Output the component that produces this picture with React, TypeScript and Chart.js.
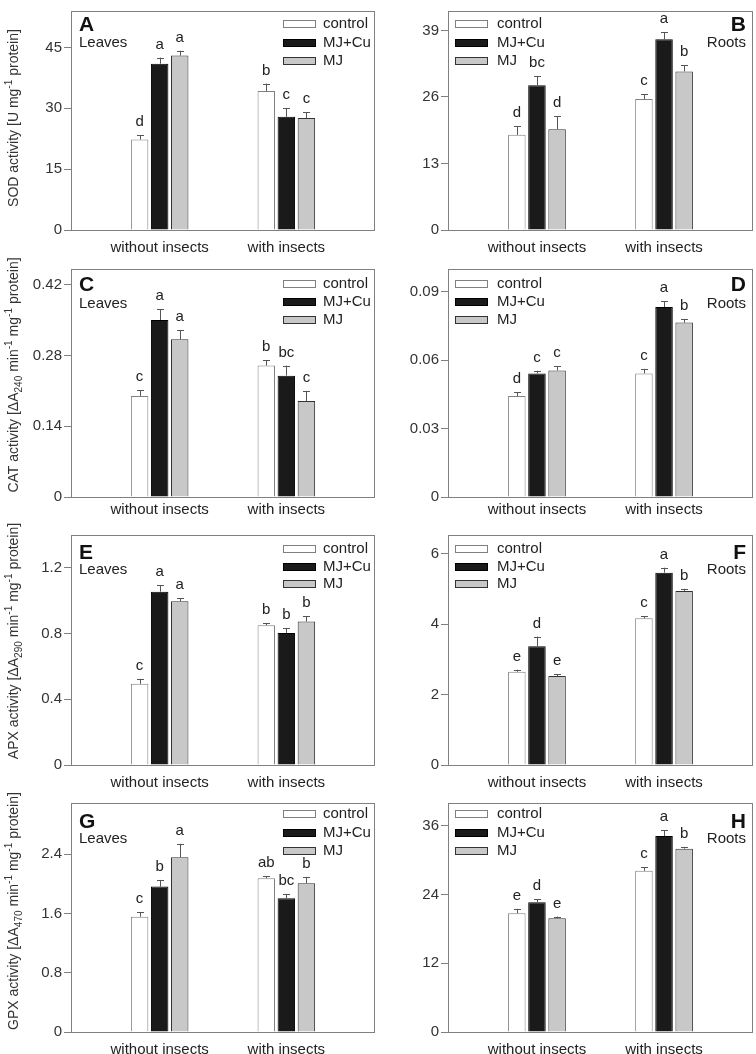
import React, { useEffect, useRef } from "react";
import { Chart, registerables } from "chart.js";
Chart.register(...registerables);

const FONT = "'Liberation Sans', Arial, Helvetica, sans-serif";

const groups = ["without insects", "with insects"];
const seriesNames = ["control", "MJ+Cu", "MJ"];

// values are [series][group]: series = control, MJ+Cu, MJ ; group = without, with insects
const sodLeavesMeans = [[22.3, 34.3], [41.0, 27.9], [43.0, 27.6]];
const sodLeavesErr = [[1.1, 1.8], [1.5, 2.1], [1.2, 1.4]];
const sodLeavesLetters = [["d", "b"], ["a", "c"], ["a", "c"]];
const sodLeavesTicks = [0, 15, 30, 45];

const sodRootsMeans = [[18.6, 25.6], [28.3, 37.3], [19.7, 31.0]];
const sodRootsErr = [[1.7, 0.9], [1.8, 1.3], [2.5, 1.2]];
const sodRootsLetters = [["d", "c"], ["bc", "a"], ["d", "b"]];
const sodRootsTicks = [0, 13, 26, 39];

const catLeavesMeans = [[0.2, 0.26], [0.35, 0.24], [0.312, 0.19]];
const catLeavesErr = [[0.011, 0.011], [0.021, 0.02], [0.018, 0.02]];
const catLeavesLetters = [["c", "b"], ["a", "bc"], ["a", "c"]];
const catLeavesTicks = [0, 0.14, 0.28, 0.42];

const catRootsMeans = [[0.0443, 0.0542], [0.0542, 0.0833], [0.0555, 0.0765]];
const catRootsErr = [[0.0016, 0.002], [0.0012, 0.0026], [0.0018, 0.0016]];
const catRootsLetters = [["d", "c"], ["c", "a"], ["c", "b"]];
const catRootsTicks = [0, 0.03, 0.06, 0.09];

const apxLeavesMeans = [[0.494, 0.851], [1.055, 0.804], [0.996, 0.873]];
const apxLeavesErr = [[0.03, 0.014], [0.039, 0.028], [0.018, 0.031]];
const apxLeavesLetters = [["c", "b"], ["a", "b"], ["a", "b"]];
const apxLeavesTicks = [0, 0.4, 0.8, 1.2];

const apxRootsMeans = [[2.65, 4.17], [3.38, 5.47], [2.53, 4.95]];
const apxRootsErr = [[0.06, 0.06], [0.27, 0.14], [0.05, 0.06]];
const apxRootsLetters = [["e", "c"], ["d", "a"], ["e", "b"]];
const apxRootsTicks = [0, 2, 4, 6];

const gpxLeavesMeans = [[1.556, 2.075], [1.962, 1.804], [2.359, 2.007]];
const gpxLeavesErr = [[0.063, 0.027], [0.09, 0.059], [0.18, 0.081]];
const gpxLeavesLetters = [["c", "ab"], ["b", "bc"], ["a", "b"]];
const gpxLeavesTicks = [0, 0.8, 1.6, 2.4];

const gpxRootsMeans = [[20.75, 28.17], [22.68, 34.25], [19.87, 32.03]];
const gpxRootsErr = [[0.76, 0.58], [0.47, 1.0], [0.3, 0.3]];
const gpxRootsLetters = [["e", "c"], ["d", "a"], ["e", "b"]];
const gpxRootsTicks = [0, 12, 24, 36];

type Seg = { t: string; s?: "sub" | "sup" };

const sodTitle: Seg[] = [{ t: "SOD activity [U mg" }, { t: "-1", s: "sup" }, { t: " protein]" }];
const catTitle: Seg[] = [{ t: "CAT activity [ΔA" }, { t: "240", s: "sub" }, { t: " min" }, { t: "-1", s: "sup" }, { t: " mg" }, { t: "-1", s: "sup" }, { t: " protein]" }];
const apxTitle: Seg[] = [{ t: "APX activity [ΔA" }, { t: "290", s: "sub" }, { t: " min" }, { t: "-1", s: "sup" }, { t: " mg" }, { t: "-1", s: "sup" }, { t: " protein]" }];
const gpxTitle: Seg[] = [{ t: "GPX activity [ΔA" }, { t: "470", s: "sub" }, { t: " min" }, { t: "-1", s: "sup" }, { t: " mg" }, { t: "-1", s: "sup" }, { t: " protein]" }];

// styles
const fills = ["#ffffff", "#1a1a1a", "#c8c8c8"];
const strokes = ["#808080", "#000000", "#333333"];

// layout per row
const rowCanvasTop = [0, 258, 518, 788];
const rowCanvasH = [258, 260, 270, 266];
const rowChartTop = [3, 268, 535, 803];
const rowChartBottom = [230, 497, 765, 1032];
const rowXPad = [9, 4, 9, 9];
const rowLegendY = [[12, 31, 49], [14, 32, 50], [13, 31, 48], [10, 29, 47]];
const rowLetterY = [14, 16, 18, 19];
const rowSubY = [32, 35, 35, 36];
const rowTitleY = [107, 106, 106, 108];
const colLeft = [0, 378];
const colChartLeft = [71, 70];
const colChartRight = [375, 375];

type PanelDef = {
  row: number;
  col: number;
  means: number[][];
  errs: number[][];
  letters: string[][];
  ticks: number[];
  yMax: number;
  dec: number;
  letter: string;
  sub: string;
  title?: Seg[];
};

const panels: PanelDef[] = [
  { row: 0, col: 0, means: sodLeavesMeans, errs: sodLeavesErr, letters: sodLeavesLetters, ticks: sodLeavesTicks, yMax: 54, dec: 0, letter: "A", sub: "Leaves", title: sodTitle },
  { row: 0, col: 1, means: sodRootsMeans, errs: sodRootsErr, letters: sodRootsLetters, ticks: sodRootsTicks, yMax: 42.8, dec: 0, letter: "B", sub: "Roots" },
  { row: 1, col: 0, means: catLeavesMeans, errs: catLeavesErr, letters: catLeavesLetters, ticks: catLeavesTicks, yMax: 0.451, dec: 2, letter: "C", sub: "Leaves", title: catTitle },
  { row: 1, col: 1, means: catRootsMeans, errs: catRootsErr, letters: catRootsLetters, ticks: catRootsTicks, yMax: 0.1, dec: 2, letter: "D", sub: "Roots" },
  { row: 2, col: 0, means: apxLeavesMeans, errs: apxLeavesErr, letters: apxLeavesLetters, ticks: apxLeavesTicks, yMax: 1.4, dec: 1, letter: "E", sub: "Leaves", title: apxTitle },
  { row: 2, col: 1, means: apxRootsMeans, errs: apxRootsErr, letters: apxRootsLetters, ticks: apxRootsTicks, yMax: 6.54, dec: 0, letter: "F", sub: "Roots" },
  { row: 3, col: 0, means: gpxLeavesMeans, errs: gpxLeavesErr, letters: gpxLeavesLetters, ticks: gpxLeavesTicks, yMax: 3.09, dec: 1, letter: "G", sub: "Leaves", title: gpxTitle },
  { row: 3, col: 1, means: gpxRootsMeans, errs: gpxRootsErr, letters: gpxRootsLetters, ticks: gpxRootsTicks, yMax: 40, dec: 0, letter: "H", sub: "Roots" },
];

function drawRich(ctx: CanvasRenderingContext2D, segs: Seg[], cx: number, cy: number, size: number) {
  ctx.save();
  ctx.translate(cx, cy);
  ctx.rotate(-Math.PI / 2);
  const small = size * 0.72;
  let total = 0;
  const widths: number[] = [];
  for (const seg of segs) {
    ctx.font = `${seg.s ? small : size}px ${FONT}`;
    const w = ctx.measureText(seg.t).width;
    widths.push(w);
    total += w;
  }
  let x = -total / 2;
  const base = size * 0.36;
  ctx.fillStyle = "#333";
  ctx.textBaseline = "alphabetic";
  ctx.textAlign = "left";
  segs.forEach((seg, i) => {
    ctx.font = `${seg.s ? small : size}px ${FONT}`;
    let off = 0;
    if (seg.s === "sub") off = size * 0.3;
    if (seg.s === "sup") off = -size * 0.42;
    ctx.fillText(seg.t, x, base + off);
    x += widths[i];
  });
  ctx.restore();
}

function makeConfig(p: PanelDef): any {
  const canvasH = rowCanvasH[p.row];
  const chartTop = rowChartTop[p.row] - rowCanvasTop[p.row];
  const chartBottom = rowChartBottom[p.row] - rowCanvasTop[p.row];
  const chartLeft = colChartLeft[p.col];
  const chartRight = colChartRight[p.col];
  const xh = canvasH - chartBottom;

  const decor = {
    id: "decor" + p.letter,
    afterDatasetsDraw(chart: any) {
      const ctx: CanvasRenderingContext2D = chart.ctx;
      const ys = chart.scales.y;
      ctx.save();
      chart.data.datasets.forEach((_ds: any, s: number) => {
        const meta = chart.getDatasetMeta(s);
        meta.data.forEach((bar: any, g: number) => {
          const top = ys.getPixelForValue(p.means[s][g] + p.errs[s][g]);
          const x = Math.round(bar.x) + 0.5;
          ctx.strokeStyle = "#555";
          ctx.lineWidth = 1;
          ctx.beginPath();
          ctx.moveTo(x, bar.y);
          ctx.lineTo(x, top);
          ctx.moveTo(x - 3.5, Math.round(top) + 0.5);
          ctx.lineTo(x + 3.5, Math.round(top) + 0.5);
          ctx.stroke();
          ctx.fillStyle = "#222";
          ctx.font = `15px ${FONT}`;
          ctx.textAlign = "center";
          ctx.textBaseline = "alphabetic";
          ctx.fillText(p.letters[s][g], bar.x, top - 9);
        });
      });
      ctx.restore();
    },
    afterDraw(chart: any) {
      const ctx: CanvasRenderingContext2D = chart.ctx;
      const a = chart.chartArea;
      ctx.save();
      // frame
      ctx.strokeStyle = "#808080";
      ctx.lineWidth = 1;
      ctx.strokeRect(Math.round(a.left) + 0.5, Math.round(a.top) + 0.5, Math.round(a.right - a.left) - 1, Math.round(a.bottom - a.top));
      // legend
      const ly = rowLegendY[p.row];
      const boxLeft = p.col === 0 ? a.right - 92 : a.left + 7;
      const textLeft = p.col === 0 ? a.right - 52 : a.left + 49;
      seriesNames.forEach((name, i) => {
        const cy = a.top + ly[i];
        ctx.fillStyle = fills[i];
        ctx.fillRect(Math.round(boxLeft), Math.round(cy - 3.5), 32, 7);
        ctx.strokeStyle = strokes[i];
        ctx.strokeRect(Math.round(boxLeft) + 0.5, Math.round(cy - 3.5) + 0.5, 32, 7);
        ctx.fillStyle = "#222";
        ctx.font = `15px ${FONT}`;
        ctx.textAlign = "left";
        ctx.textBaseline = "middle";
        ctx.fillText(name, textLeft, cy + 0.5);
      });
      // panel letter and subtitle
      ctx.fillStyle = "#111";
      ctx.textBaseline = "middle";
      ctx.textAlign = p.col === 0 ? "left" : "right";
      const tx = p.col === 0 ? a.left + 8 : a.right - 7;
      ctx.font = `bold 21px ${FONT}`;
      ctx.fillText(p.letter, tx, a.top + rowLetterY[p.row]);
      ctx.fillStyle = "#222";
      ctx.font = `15px ${FONT}`;
      ctx.fillText(p.sub, tx, a.top + rowSubY[p.row]);
      // y title
      if (p.title) drawRich(ctx, p.title, 13, a.top + rowTitleY[p.row], 14);
      ctx.restore();
    },
  };

  return {
    type: "bar",
    data: {
      datasets: seriesNames.map((name, s) => ({
        label: name,
        data: p.means[s].map((v, g) => ({ x: g + 1, y: v })),
        backgroundColor: fills[s],
        borderColor: strokes[s],
        borderWidth: 1,
        borderSkipped: "bottom",
        categoryPercentage: 0.475,
        barPercentage: 0.87,
      })),
    },
    options: {
      responsive: false,
      animation: false,
      devicePixelRatio: 1,
      layout: { padding: { left: 0, top: chartTop, right: 378 - chartRight, bottom: 0 } },
      plugins: { legend: { display: false }, tooltip: { enabled: false }, title: { display: false } },
      scales: {
        x: {
          type: "linear",
          min: 0.3,
          max: 2.7,
          offset: false,
          grid: { display: false, drawTicks: false, offset: false },
          border: { display: false },
          ticks: {
            autoSkip: false,
            maxRotation: 0,
            padding: rowXPad[p.row],
            color: "#222",
            font: { family: FONT, size: 15 },
            callback: (_v: any, i: number) => groups[i],
          },
          afterBuildTicks: (s: any) => {
            s.ticks = groups.map((_g, i) => ({ value: i + 1 }));
          },
          afterFit: (s: any) => {
            s.height = xh;
          },
        },
        y: {
          min: 0,
          max: p.yMax,
          grid: { display: true, drawOnChartArea: false, drawTicks: true, tickLength: 7, color: "#808080" },
          border: { display: false },
          ticks: {
            padding: 2,
            color: "#333",
            font: { family: FONT, size: 15 },
            callback: (v: any) => (v === 0 ? "0" : Number(v).toFixed(p.dec)),
          },
          afterBuildTicks: (s: any) => {
            s.ticks = p.ticks.map((v) => ({ value: v }));
          },
          afterFit: (s: any) => {
            s.width = chartLeft;
          },
        },
      },
    },
    plugins: [decor],
  };
}

function Panel({ p }: { p: PanelDef }) {
  const ref = useRef<HTMLCanvasElement>(null);
  useEffect(() => {
    const chart = new Chart(ref.current as HTMLCanvasElement, makeConfig(p));
    return () => chart.destroy();
  }, [p]);
  const h = rowCanvasH[p.row];
  return (
    <canvas
      ref={ref}
      width={378}
      height={h}
      style={{ position: "absolute", left: colLeft[p.col], top: rowCanvasTop[p.row], width: 378, height: h }}
    />
  );
}

export default function App() {
  return (
    <div style={{ position: "absolute", left: 0, top: 0, width: 756, height: 1054, background: "#fff", overflow: "hidden" }}>
      {panels.map((p, i) => (
        <Panel key={i} p={p} />
      ))}
    </div>
  );
}
